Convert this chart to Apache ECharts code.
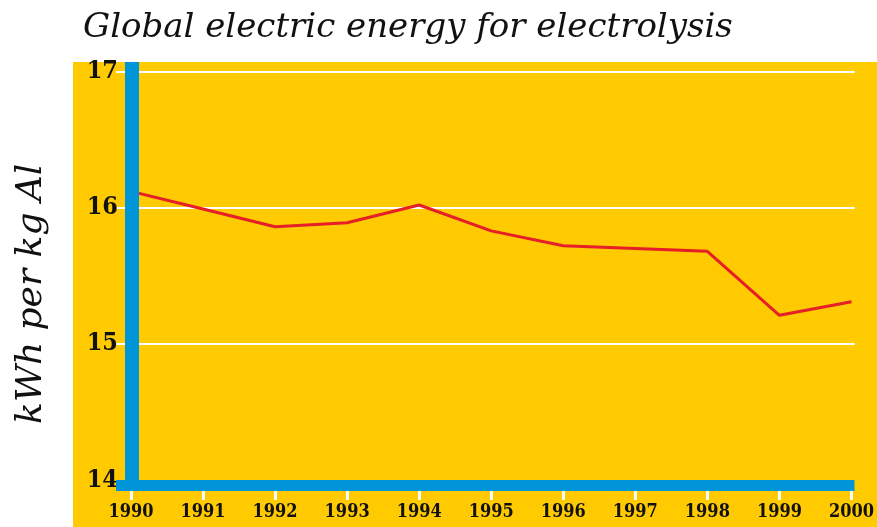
<!DOCTYPE html>
<html>
<head>
<meta charset="utf-8">
<script src="https://cdn.jsdelivr.net/npm/echarts@6/dist/echarts.min.js"></script>
<style>
  html, body { margin: 0; padding: 0; background: #ffffff; }
  #chart { width: 877px; height: 527px; }
</style>
</head>
<body>
<div id="chart"></div>
<script>
// Global electric energy used in aluminium electrolysis, kWh per kg Al
const years = [1990, 1991, 1992, 1993, 1994, 1995, 1996, 1997, 1998, 1999, 2000];
const energyKWh = [16.12, 15.99, 15.86, 15.89, 16.02, 15.83, 15.72, 15.70, 15.68, 15.21, 15.31];
const yTickLabels = [14, 15, 16, 17];
const yGridValues = [15, 16, 17];

const YELLOW = '#FFCA00';
const BLUE = '#0094D8';
const RED = '#E61E28';
const SERIF = "'DejaVu Serif', 'Liberation Serif', serif";
const NARROW = "'DejaVu Serif Condensed', 'DejaVu Serif', serif";

const xMin = 1989.792, xMax = 2000.042;
const yMin = 13.96, yMax = 17.07;

const chart = echarts.init(document.getElementById('chart'), null, { renderer: 'canvas' });

chart.setOption({
  animation: false,
  backgroundColor: '#ffffff',
  title: {
    text: 'Global electric energy for electrolysis',
    left: 78,
    top: 6,
    textStyle: {
      fontFamily: SERIF,
      fontStyle: 'italic',
      fontWeight: 'normal',
      fontSize: 34,
      color: '#111111'
    }
  },
  graphic: [{
    type: 'rect',
    left: 73,
    top: 62,
    shape: { width: 804, height: 465 },
    style: { fill: YELLOW },
    z: -10,
    silent: true
  }],
  grid: { left: 116, right: 21, top: 62, bottom: 41.5 },
  xAxis: [
    {
      // thick blue baseline
      type: 'value', min: xMin, max: xMax, position: 'bottom', z: 6,
      axisLine: { show: true, onZero: false, lineStyle: { color: BLUE, width: 11, cap: 'butt' } },
      axisTick: { show: false },
      axisLabel: { show: false },
      splitLine: { show: false }
    },
    {
      // year ticks and labels below the baseline
      type: 'value', min: xMin, max: xMax, position: 'bottom', offset: 5.5, z: 1,
      axisLine: { show: false, onZero: false },
      axisTick: {
        show: true, length: 9, customValues: years,
        lineStyle: { color: '#ffffff', width: 3 }
      },
      axisLabel: {
        show: true, customValues: years, margin: 12,
        formatter: v => String(v),
        fontFamily: NARROW, fontWeight: 'bold', fontSize: 18, color: '#111111'
      },
      splitLine: { show: false }
    }
  ],
  yAxis: [
    {
      type: 'value', min: yMin, max: yMax, position: 'left', z: 1,
      name: 'kWh per kg Al',
      nameLocation: 'middle',
      nameGap: 66,
      nameRotate: 90,
      nameTextStyle: {
        fontFamily: SERIF, fontStyle: 'italic', fontSize: 36, color: '#111111',
        padding: [0, 40, 0, 0]
      },
      axisLine: { show: false },
      axisTick: { show: false, customValues: yGridValues },
      axisLabel: {
        show: true, customValues: yTickLabels, margin: -2,
        formatter: v => String(v),
        fontFamily: NARROW, fontWeight: 'bold', fontSize: 25, color: '#111111'
      },
      splitLine: { show: true, lineStyle: { color: '#ffffff', width: 2 } }
    },
    {
      // thick blue vertical axis bar
      type: 'value', min: yMin, max: yMax, position: 'left', offset: -16, z: 6,
      axisLine: { show: true, onZero: false, lineStyle: { color: BLUE, width: 14, cap: 'butt' } },
      axisTick: { show: false },
      axisLabel: { show: false },
      splitLine: { show: false }
    }
  ],
  series: [{
    type: 'line',
    xAxisIndex: 0,
    yAxisIndex: 0,
    data: years.map((y, i) => [y, energyKWh[i]]),
    showSymbol: false,
    lineStyle: { color: RED, width: 3 },
    z: 3
  }]
});
</script>
</body>
</html>
